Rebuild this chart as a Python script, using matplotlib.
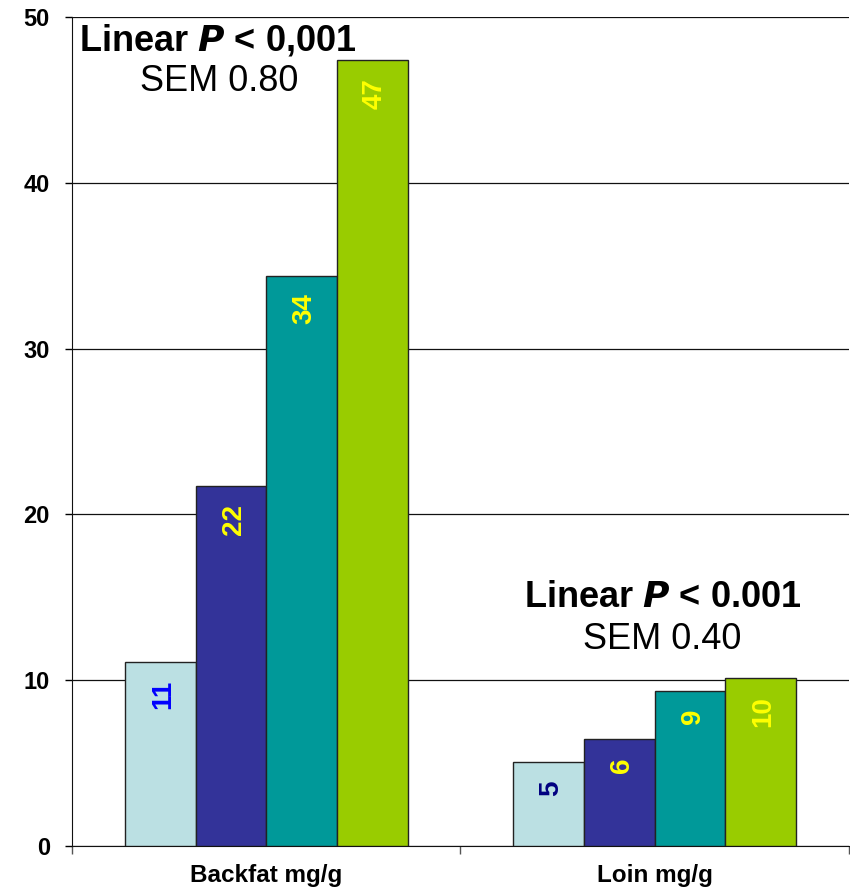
import matplotlib
matplotlib.use('Agg')
import matplotlib.pyplot as plt
import numpy as np

plt.rcParams['font.family'] = ['Liberation Sans', 'DejaVu Sans']

# 数据
categories = ['Backfat mg/g', 'Loin mg/g']
backfat = [11.1, 21.7, 34.4, 47.4]
loin = [5.05, 6.45, 9.35, 10.1]
labels_backfat = ['11', '22', '34', '47']
labels_loin = ['5', '6', '9', '10']
bar_colors = ['#BBE0E3', '#333399', '#009999', '#99CC00']
label_colors_backfat = ['#0000FF', '#FFFF00', '#FFFF00', '#FFFF00']
label_colors_loin = ['#000080', '#FFFF00', '#FFFF00', '#FFFF00']

fig = plt.figure(figsize=(8.5, 8.89), dpi=100)
ax = fig.add_axes([0.0847, 0.0484, 0.914, 0.9326])

w = 0.182
x = np.arange(len(categories))
series = list(zip(backfat, loin))
for i, vals in enumerate(series):
    pos = x + (i - 1.5) * w
    ax.bar(pos, vals, width=w, color=bar_colors[i], edgecolor='#222222', linewidth=1, zorder=3)
    for j, v in enumerate(vals):
        txt = [labels_backfat, labels_loin][j][i]
        col = [label_colors_backfat, label_colors_loin][j][i]
        ax.annotate(txt, (pos[j], v), xytext=(2, -13), textcoords='offset points',
                    ha='center', va='top', rotation=90, fontsize=20, fontweight='bold',
                    color=col, zorder=4)

ax.set_xlim(-0.5, 1.5)
ax.set_ylim(0, 50)
ax.set_yticks(range(0, 51, 10))
ax.yaxis.grid(True, color='#111111', linewidth=0.9, zorder=0)
ax.set_axisbelow(True)
ax.tick_params(axis='y', length=5, width=1, pad=11, labelsize=17)
for t in ax.get_yticklabels():
    t.set_fontweight('bold')
ax.set_xticks(x)
ax.set_xticklabels(categories, fontsize=17.5, fontweight='bold')
ax.set_xticks([-0.5, 0.5, 1.5], minor=True)
ax.tick_params(axis='x', which='major', length=0, pad=13)
ax.tick_params(axis='x', which='minor', length=6, width=1, color='#555555')
for s in ['top', 'right']:
    ax.spines[s].set_visible(False)
ax.spines['left'].set_color('#111111')
ax.spines['bottom'].set_color('#111111')

# 注释
ax.text(-0.124, 48.6, 'Linear $\\boldsymbol{P}$ < 0,001', fontsize=26, fontweight='bold',
        ha='center', va='center', zorder=5)
ax.text(-0.12, 46.1, 'SEM 0.80', fontsize=26, ha='center', va='center', zorder=5)
ax.text(1.02, 15.0, 'Linear $\\boldsymbol{P}$ < 0.001', fontsize=26, fontweight='bold',
        ha='center', va='center', zorder=5)
ax.text(1.02, 12.45, 'SEM 0.40', fontsize=26, ha='center', va='center', zorder=5)

fig.savefig('out.png', dpi=100)
